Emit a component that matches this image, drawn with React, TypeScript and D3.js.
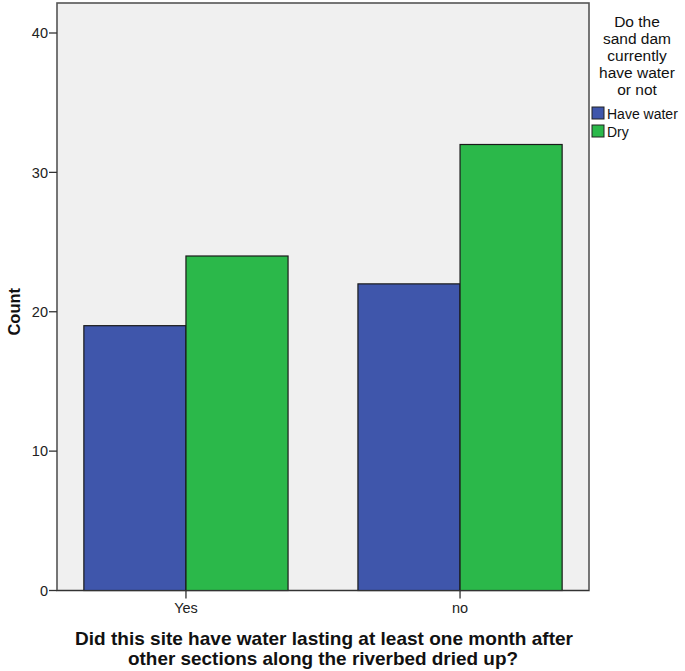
import React from "react";
import * as d3 from "d3";

const categories = ["Yes", "no"];
const seriesNames = ["Have water", "Dry"];
const haveWater = [19, 22];
const dry = [24, 32];
const yTicks = [0, 10, 20, 30, 40];
const colors = ["#3f56ab", "#2bb84a"];

const W = 685;
const H = 671;
const plot = { left: 57, right: 589, top: 3, bottom: 590.5 };
const font = "Arial, 'Liberation Sans', sans-serif";

export default function App() {
  const x = d3
    .scaleBand<string>()
    .domain(categories)
    .range([plot.left, plot.right])
    .paddingInner(0.255)
    .paddingOuter(0.098);
  const xs = d3
    .scaleBand<string>()
    .domain(seriesNames)
    .range([0, x.bandwidth()]);
  const y = d3.scaleLinear().domain([0, 40]).range([plot.bottom, 33]);
  const series = [haveWater, dry];

  return (
    <svg
      width={W}
      height={H}
      style={{ position: "absolute", left: 0, top: 0, background: "#fff" }}
      fontFamily={font}
    >
      <rect
        x={plot.left}
        y={plot.top}
        width={plot.right - plot.left}
        height={plot.bottom - plot.top}
        fill="#f0f0f0"
        stroke="#555"
        strokeWidth={1.6}
      />
      {categories.map((c, ci) =>
        seriesNames.map((s, si) => {
          const v = series[si][ci];
          return (
            <rect
              key={c + s}
              x={(x(c) as number) + (xs(s) as number)}
              y={y(v)}
              width={xs.bandwidth()}
              height={y(0) - y(v)}
              fill={colors[si]}
              stroke="#1a1a1a"
              strokeWidth={1.2}
            />
          );
        })
      )}
      <line x1={plot.left} x2={plot.right} y1={y(0)} y2={y(0)} stroke="#333" strokeWidth={1.2} />
      {yTicks.map((t) => (
        <g key={t}>
          <line x1={plot.left - 8} x2={plot.left} y1={y(t)} y2={y(t)} stroke="#333" strokeWidth={1.3} />
          <text x={plot.left - 9} y={y(t)} dy="0.36em" textAnchor="end" fontSize={14.5} fill="#222">
            {t}
          </text>
        </g>
      ))}
      {categories.map((c) => {
        const cx = (x(c) as number) + x.bandwidth() / 2;
        return (
          <g key={c}>
            <line x1={cx} x2={cx} y1={y(0)} y2={y(0) + 8} stroke="#333" strokeWidth={1.3} />
            <text x={cx} y={613} textAnchor="middle" fontSize={14.5} fill="#222">
              {c}
            </text>
          </g>
        );
      })}
      <text
        transform={`translate(20,${(plot.top + plot.bottom) / 2 + 15}) rotate(-90)`}
        textAnchor="middle"
        fontSize={16.5}
        fontWeight="bold"
        fill="#111"
      >
        Count
      </text>
      <text x={324} y={645} textAnchor="middle" fontSize={18.5} fontWeight="bold" fill="#111" textLength={498} lengthAdjust="spacingAndGlyphs">
        Did this site have water lasting at least one month after
      </text>
      <text x={323} y={665} textAnchor="middle" fontSize={18.5} fontWeight="bold" fill="#111" textLength={390} lengthAdjust="spacingAndGlyphs">
        other sections along the riverbed dried up?
      </text>
      {["Do the", "sand dam", "currently", "have water", "or not"].map((l, i) => (
        <text key={l} x={637} y={27 + i * 17} textAnchor="middle" fontSize={15.5} fill="#111">
          {l}
        </text>
      ))}
      {seriesNames.map((s, i) => (
        <g key={s}>
          <rect x={592} y={107 + i * 18} width={12} height={12} fill={colors[i]} stroke="#222" strokeWidth={1} />
          <text x={607} y={119 + i * 18} fontSize={14} fill="#111">
            {s}
          </text>
        </g>
      ))}
    </svg>
  );
}
